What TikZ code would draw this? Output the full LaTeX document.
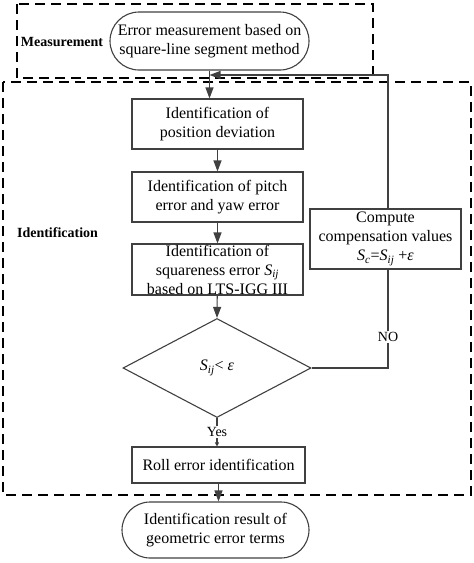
\documentclass[tikz,border=0pt]{standalone}
\usepackage{fontspec}
\setmainfont{Liberation Serif}
\usetikzlibrary{arrows.meta,shapes.misc,shapes.geometric}
\definecolor{linecol}{HTML}{404040}
\newcommand{\bigtxt}{\fontsize{16}{19}\selectfont}
\newcommand{\smalltxt}{\fontsize{14}{17}\selectfont}
\newcommand{\Sij}{\textit{S}\textsubscript{\textit{ij}}}
\begin{document}
\begin{tikzpicture}[x=1pt,y=-1pt,
  proc/.style={draw=linecol, line width=1.1pt, rectangle, align=center, inner sep=0pt, font=\bigtxt},
  term/.style={draw=linecol, line width=1.1pt, rounded rectangle, align=center, inner sep=0pt, font=\bigtxt},
  dec/.style={draw=linecol, line width=1.1pt, diamond, inner sep=0pt, font=\bigtxt},
  grp/.style={draw=black, line width=1.8pt, dash pattern=on 10pt off 6pt},
  grplabel/.style={font=\smalltxt\bfseries, inner sep=0pt},
  arr/.style={draw=linecol, line width=1.1pt, -{Triangle[length=11pt,width=8pt]}},
  smallarr/.style={draw=linecol, line width=1.1pt, -{Triangle[length=4pt,width=4pt]}},
  lnk/.style={draw=linecol, line width=1.1pt},
  lbl/.style={font=\smalltxt, fill=white, inner sep=1pt}
]
\useasboundingbox (0,0) rectangle (474,563);

% group frames
\draw[grp] (17,4) rectangle (373,78);
\draw[grp] (3,82) rectangle (471,495);
\node[grplabel] (lmeas) at (62,42) {Measurement};
\node[grplabel] (lident) at (57.5,233) {Identification};

% nodes
\node[term, minimum width=199pt, minimum height=58pt] (t1) at (209.5,41) {Error measurement based on\\square-line segment method};
\node[proc, minimum width=171pt, minimum height=50pt] (b1) at (217.5,124) {Identification of\\position deviation};
\node[proc, minimum width=171pt, minimum height=50pt] (b2) at (217.5,197) {Identification of pitch\\error and yaw error};
\node[proc, minimum width=171pt, minimum height=51pt] (b3) at (217.5,269.5) {Identification of\\squareness error \Sij\\based on LTS-IGG III};
\node[dec, minimum width=188pt, minimum height=99pt] (d) at (217,368) {\Sij{}< \textit{ε}};
\node[proc, minimum width=151pt, minimum height=60pt] (c) at (385.5,239) {Compute\\compensation values\\\textit{S}\textsubscript{\textit{c}}=\Sij{} +\textit{ε}};
\node[proc, minimum width=173pt, minimum height=36pt] (r) at (218.5,465) {Roll error identification};
\node[term, minimum width=187pt, minimum height=56pt] (t2) at (215.5,530) {Identification result of\\geometric error terms};

\coordinate (fb) at (209.5,75);

% connectors
\draw[arr] (t1.south) -- (t1.south |- b1.north);
\draw[arr] (b1) -- (b2);
\draw[arr] (b2) -- (b3);
\draw[arr] (b3) -- (d.north);
\draw[smallarr] (d.south) -- (d.south |- r.north);
\node[lbl] (yes) at (217,432) {Yes};
\draw[arr] (r.south) -- (r.south |- t2.north);
\draw[lnk] (d.east) -| ([xshift=2.5pt]c.south);
\node[lbl] (no) at (388,337) {NO};
\draw[arr] ([xshift=2.5pt]c.north) |- (fb);
\end{tikzpicture}
\end{document}
